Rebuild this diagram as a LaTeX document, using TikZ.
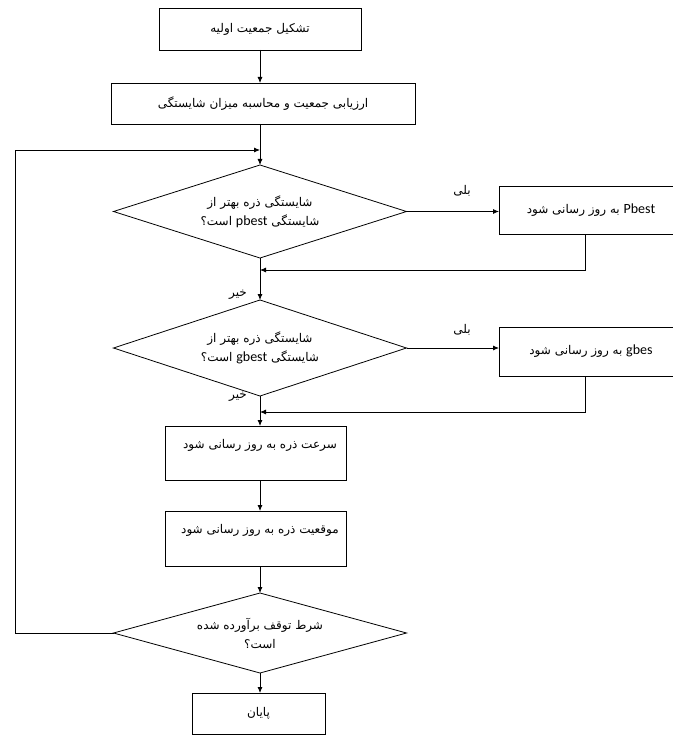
\documentclass[tikz,border=0pt]{standalone}
\usepackage{fontspec}
\TeXXeTstate=1
\newfontfamily\arabicfont[Script=Arabic]{DejaVu Sans}
\newfontfamily\latinfont{Carlito}
\usetikzlibrary{shapes.geometric,arrows.meta}
\newcommand{\fa}[1]{{\arabicfont\beginR #1\endR}}
\newcommand{\en}[1]{\beginL{\latinfont\fontsize{14}{16}\selectfont #1}\endL}
\begin{document}
\begin{tikzpicture}[x=1pt,y=-1pt,
  font=\arabicfont\fontsize{12}{19}\selectfont,
  box/.style={draw, line width=0.8pt, inner sep=0pt, outer sep=0pt},
  dia/.style={draw, diamond, shape aspect=3, line width=0.8pt, inner sep=0pt, outer sep=0pt, align=center},
  arr/.style={-{Latex[length=6pt,width=5pt]}, line width=0.8pt},
  lbl/.style={inner sep=0pt}]
\useasboundingbox (0,0) rectangle (672,735);
% nodes
\node[box, minimum width=202, minimum height=42] (b1) at (260,29) {\fa{تشکیل جمعیت اولیه}};
\node[box, minimum width=304, minimum height=41] (b2) at (263,103.5) {\fa{ارزیابی جمعیت و محاسبه میزان شایستگی}};
\node[dia, minimum width=293, minimum height=93] (d1) at (260,211.5) {\fa{شایستگی ذره بهتر از}\\ \fa{شایستگی \en{pbest} است؟}};
\node[box, minimum width=184, minimum height=48] (pb) at (591,210) {\fa{\en{Pbest} به روز رسانی شود}};
\node[dia, minimum width=293, minimum height=96] (d2) at (260,348) {\fa{شایستگی ذره بهتر از}\\ \fa{شایستگی \en{gbest} است؟}};
\node[box, minimum width=184, minimum height=49] (gb) at (591,351.5) {\fa{\en{gbes} به روز رسانی شود}};
\node[box, minimum width=181, minimum height=54] (b3) at (255.5,453) {};
\node[lbl] (b3t) at (260,445) {\fa{سرعت ذره به روز رسانی شود}};
\node[box, minimum width=181, minimum height=55] (b4) at (255.5,538.5) {};
\node[lbl] (b4t) at (260,530) {\fa{موقعیت ذره به روز رسانی شود}};
\node[dia, minimum width=293, minimum height=80] (d3) at (260,633) {\fa{شرط توقف برآورده شده}\\ \fa{است؟}};
\node[box, minimum width=133, minimum height=41] (e) at (258.5,713.5) {\fa{پایان}};
% labels
\node[lbl] (y1) at (462,191) {\fa{بلی}};
\node[lbl] (n1) at (238,295) {\fa{خیر}};
\node[lbl] (y2) at (462,330) {\fa{بلی}};
\node[lbl] (n2) at (238,397) {\fa{خیر}};
% coordinates
\coordinate (r1) at (585,270);
\coordinate (r2) at (585,412);
\coordinate (L2) at (15,633);
\coordinate (L1) at (15,150);
% connectors
\draw[arr] (b1.south) -- (b1.south |- b2.north);
\draw[arr] (d1.north |- b2.south) -- (d1.north);
\draw[arr] (d1.east) -- (d1.east -| pb.west);
\draw[arr] (pb.south -| r1) -- (r1) -- (r1 -| d1.south);
\draw[arr] (d1.south) -- (d2.north);
\draw[arr] (d2.east) -- (d2.east -| gb.west);
\draw[arr] (gb.south -| r2) -- (r2) -- (r2 -| d2.south);
\draw[arr] (d2.south) -- (d2.south |- b3.north);
\draw[arr] (d2.south |- b3.south) -- (d2.south |- b4.north);
\draw[arr] (d2.south |- b4.south) -- (d3.north);
\draw[arr] (d3.south) -- (d3.south |- e.north);
\draw[arr] (d3.west) -- (L2) -- (L1) -- (L1 -| d1.north);
\end{tikzpicture}
\end{document}
